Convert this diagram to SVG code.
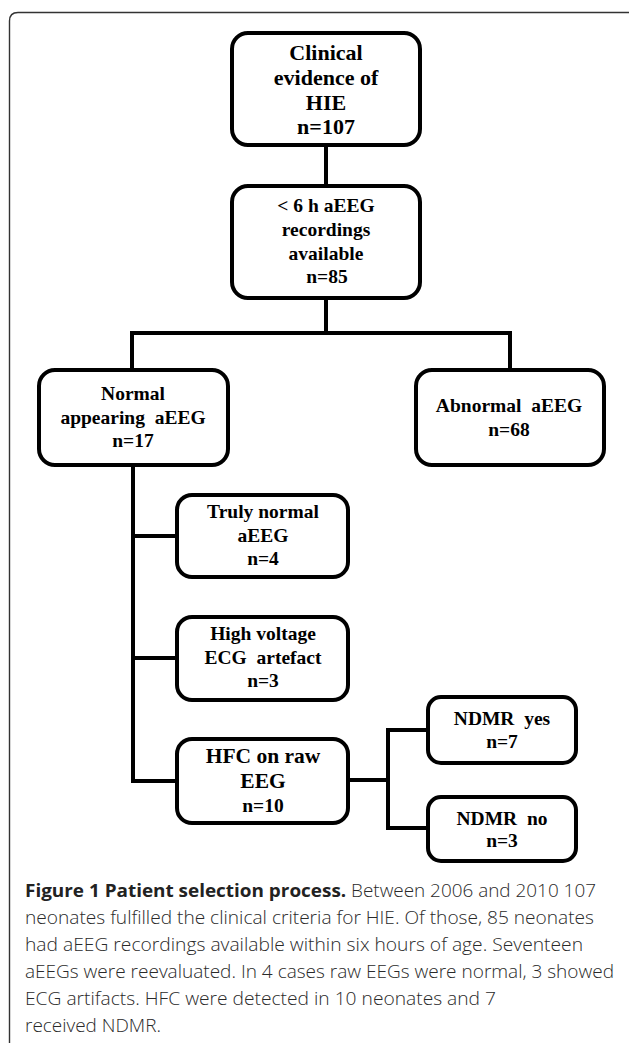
<svg xmlns="http://www.w3.org/2000/svg" width="629" height="1043" viewBox="0 0 629 1043">
<style>
.box{fill:#fff;stroke:#000;stroke-width:4}
.con{fill:none;stroke:#000;stroke-width:4}
.t{font-family:"Liberation Serif","Times New Roman",serif;font-weight:bold;fill:#000;text-anchor:middle;font-size:19.5px;white-space:pre}
.cap{font-family:"Open Sans","Liberation Sans",sans-serif;font-size:17.5px;font-weight:300;fill:#2a2a2a}
.capb{font-weight:bold;fill:#222}
</style>
<rect width="629" height="1043" fill="#fff"/>
<path d="M9.5 1043 L9.5 21 Q9.5 12.5 18 12.5 L629 12.5" fill="none" stroke="#333" stroke-width="1.4"/>
<g id="connectors">
<path class="con" d="M326 147 V186"/>
<path class="con" d="M326 300 V333 M132 370 V333 H510 V370"/>
<path class="con" d="M133 467 V781 H177"/>
<path class="con" d="M133 536 H177 M133 658 H177"/>
<path class="con" d="M350 780 H388 M428 730 H388 V828 H428"/>
</g>
<g id="n1">
<rect class="box" x="232" y="33" width="188" height="112" rx="16"/>
<text class="t" style="font-size:22px" x="326" y="60">Clinical</text>
<text class="t" style="font-size:22px" x="326" y="85">evidence of</text>
<text class="t" style="font-size:22px" x="326" y="110">HIE</text>
<text class="t" style="font-size:22px" x="326" y="134">n=107</text>
</g>
<g id="n2">
<rect class="box" x="232" y="186" width="188" height="112" rx="16"/>
<text class="t" x="326" y="212">&lt; 6 h aEEG</text>
<text class="t" x="326" y="236">recordings</text>
<text class="t" x="326" y="260">available</text>
<text class="t" x="327" y="283">n=85</text>
</g>
<g id="n3">
<rect class="box" x="39" y="370" width="189" height="95" rx="16"/>
<text class="t" x="133" y="400">Normal</text>
<text class="t" x="133" y="424">appearing  aEEG</text>
<text class="t" x="133" y="447">n=17</text>
</g>
<g id="n4">
<rect class="box" x="416" y="370" width="188" height="95" rx="16"/>
<text class="t" x="509" y="412">Abnormal  aEEG</text>
<text class="t" x="509" y="436">n=68</text>
</g>
<g id="n5">
<rect class="box" x="177" y="495" width="171" height="82" rx="15"/>
<text class="t" x="263" y="518">Truly normal</text>
<text class="t" x="263" y="542">aEEG</text>
<text class="t" x="263" y="565">n=4</text>
</g>
<g id="n6">
<rect class="box" x="177" y="617" width="171" height="83" rx="15"/>
<text class="t" x="263" y="640">High voltage</text>
<text class="t" x="263" y="664">ECG  artefact</text>
<text class="t" x="263" y="687">n=3</text>
</g>
<g id="n7">
<rect class="box" x="177" y="739" width="171" height="84" rx="15"/>
<text class="t" style="font-size:21.5px" x="263" y="763">HFC on raw</text>
<text class="t" style="font-size:21.5px" x="263" y="788">EEG</text>
<text class="t" x="263" y="812">n=10</text>
</g>
<g id="n8">
<rect class="box" x="428" y="697" width="148" height="66" rx="13"/>
<text class="t" x="502" y="725">NDMR  yes</text>
<text class="t" x="502" y="748">n=7</text>
</g>
<g id="n9">
<rect class="box" x="428" y="797" width="148" height="64" rx="13"/>
<text class="t" x="502" y="825">NDMR  no</text>
<text class="t" x="502" y="847">n=3</text>
</g>
<g id="caption">
<text class="cap" x="25" y="897" textLength="571" lengthAdjust="spacingAndGlyphs"><tspan class="capb">Figure 1 Patient selection process.</tspan> Between 2006 and 2010 107</text>
<text class="cap" x="25" y="924" textLength="569" lengthAdjust="spacingAndGlyphs">neonates fulfilled the clinical criteria for HIE. Of those, 85 neonates</text>
<text class="cap" x="25" y="951" textLength="558" lengthAdjust="spacingAndGlyphs">had aEEG recordings available within six hours of age. Seventeen</text>
<text class="cap" x="25" y="978" textLength="589" lengthAdjust="spacingAndGlyphs">aEEGs were reevaluated. In 4 cases raw EEGs were normal, 3 showed</text>
<text class="cap" x="25" y="1005" textLength="471" lengthAdjust="spacingAndGlyphs">ECG artifacts. HFC were detected in 10 neonates and 7</text>
<text class="cap" x="25" y="1032" textLength="136" lengthAdjust="spacingAndGlyphs">received NDMR.</text>
</g>
</svg>
